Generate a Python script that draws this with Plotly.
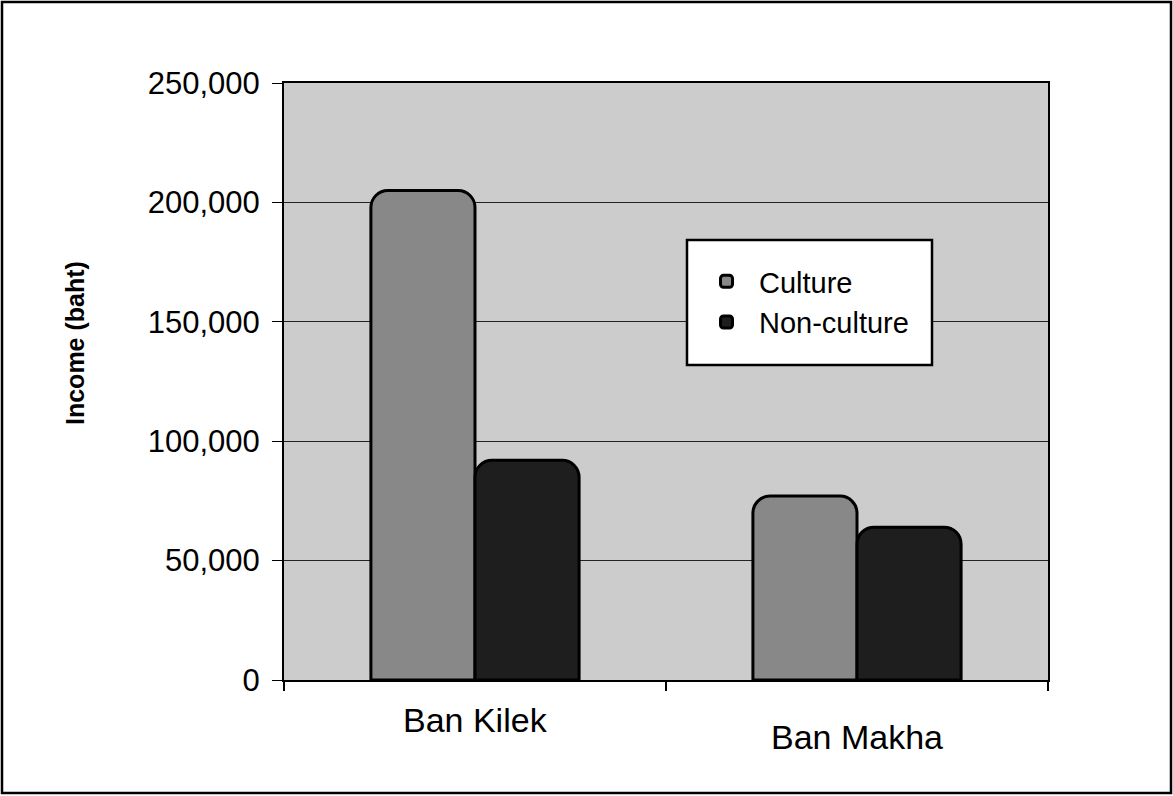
import plotly.graph_objects as go

categories = ["Ban Kilek", "Ban Makha"]
culture = [205000, 77000]
non_culture = [92000, 64000]
series_names = ["Culture", "Non-culture"]
y_ticks = [0, 50000, 100000, 150000, 200000, 250000]

W, H = 1173, 796
L, R, T, B = 284, 125, 83, 116
pw, ph = W - L - R, H - T - B

def px_x(p):
    return (p - L) / pw

def px_y(p):
    return (H - B - p) / ph

fig = go.Figure()
for name, vals, col in [(series_names[0], culture, "#888888"),
                        (series_names[1], non_culture, "#1e1e1e")]:
    fig.add_trace(go.Bar(
        x=categories, y=vals, name=name,
        marker=dict(color=col, line=dict(color="black", width=3), cornerradius=17),
    ))

font = "Liberation Sans, Arial, sans-serif"

fig.update_layout(
    width=W, height=H,
    margin=dict(l=L, r=R, t=T, b=B),
    paper_bgcolor="white",
    plot_bgcolor="#cccccc",
    barmode="group",
    bargap=0.455,
    bargroupgap=0,
    font=dict(family=font, color="black"),
    showlegend=True,
    legend=dict(
        x=px_x(694), y=px_y(256), xanchor="left", yanchor="top",
        bgcolor="rgba(0,0,0,0)", borderwidth=0,
        font=dict(size=29, family=font, color="black"),
        itemwidth=55,
    ),
    xaxis=dict(
        type="category",
        showticklabels=False,
        ticks="outside", tickson="boundaries", ticklen=9, tickwidth=2, tickcolor="black",
        showline=True, linecolor="black", linewidth=2, mirror=True,
        showgrid=False,
    ),
    yaxis=dict(
        range=[0, 250000],
        tickvals=y_ticks,
        tickformat=",d",
        ticks="outside", ticklen=10, tickwidth=1, tickcolor="black",
        ticklabelstandoff=6,
        tickfont=dict(size=31, family=font, color="black"),
        showline=True, linecolor="black", linewidth=2, mirror=True,
        showgrid=True, gridcolor="#222222", gridwidth=1,
        zeroline=False,
    ),
)

# legend frame
fig.add_shape(type="rect", xref="paper", yref="paper",
              x0=px_x(687), x1=px_x(932), y0=px_y(365), y1=px_y(240),
              line=dict(color="black", width=2.5), fillcolor="white", layer="above")

# y-axis title
fig.add_annotation(x=px_x(75), y=px_y(343), xref="paper", yref="paper",
                   text="<b>Income (baht)</b>", textangle=-90, showarrow=False,
                   font=dict(size=25, family=font, color="black"),
                   xanchor="center", yanchor="middle")

label_y = [px_y(720), px_y(737)]
for cat, yy in zip(categories, label_y):
    fig.add_annotation(x=cat, y=yy, xref="x", yref="paper", text=cat, showarrow=False,
                       font=dict(size=34, family=font, color="black"),
                       xanchor="center", yanchor="middle")

fig.add_shape(type="rect", xref="paper", yref="paper",
              x0=px_x(2), x1=px_x(1171), y0=px_y(793), y1=px_y(2),
              line=dict(color="black", width=2.5), fillcolor="rgba(0,0,0,0)", layer="above")

fig.write_html("out.html")
